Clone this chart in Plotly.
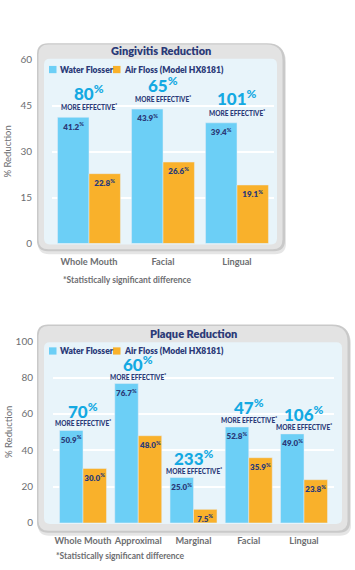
import plotly.graph_objects as go

# ---------------- data ----------------
gingivitis_categories = ["Whole Mouth", "Facial", "Lingual"]
gingivitis_water = [41.2, 43.9, 39.4]
gingivitis_air = [22.8, 26.6, 19.1]
gingivitis_more = [80, 65, 101]
gingivitis_ticks = [0, 15, 30, 45, 60]

plaque_categories = ["Whole Mouth", "Approximal", "Marginal", "Facial", "Lingual"]
plaque_water = [50.9, 76.7, 25.0, 52.8, 49.0]
plaque_air = [30.0, 48.0, 7.5, 35.9, 23.8]
plaque_more = [70, 60, 233, 47, 106]
plaque_ticks = [0, 20, 40, 60, 80, 100]

series_names = ["Water Flosser", "Air Floss (Model HX8181)"]
chart_titles = ["Gingivitis Reduction", "Plaque Reduction"]
footnote = "*Statistically significant difference"
y_title = "% Reduction"

# ---------------- style ----------------
W, H = 355, 570
BLUE = "#6CCFF6"
ORANGE = "#F9B12B"
NAVY = "#2B3A78"
CYAN = "#14A9E2"
GRAY = "#6D6E71"
RIM = "#E3E3E3"
FONT = "Lato"


def px(x):
    return x / W


def py(y):
    return 1 - y / H


def rrect(x0, y0, x1, y1, r, rtr=None):
    rtr = r if rtr is None else rtr
    pts = [
        ("M", [(x0 + r, y0)]),
        ("L", [(x1 - rtr, y0)]),
        ("Q", [(x1, y0), (x1, y0 + rtr)]),
        ("L", [(x1, y1 - r)]),
        ("Q", [(x1, y1), (x1 - r, y1)]),
        ("L", [(x0 + r, y1)]),
        ("Q", [(x0, y1), (x0, y1 - r)]),
        ("L", [(x0, y0 + r)]),
        ("Q", [(x0, y0), (x0 + r, y0)]),
    ]
    s = ""
    for cmd, ps in pts:
        s += cmd + " ".join(f"{px(a):.5f},{py(b):.5f}" for a, b in ps) + " "
    return s + "Z"


fig = go.Figure()

panels = [
    dict(outer=(37, 37, 285, 250), inner=(44, 53, 277, 243), xd=(52, 274), yd=(54, 242),
         leg_y=64, title_y=45, foot=(61, 279), xa="x", ya="y", shifts=(25, 10),
         cats=gingivitis_categories, water=gingivitis_water, air=gingivitis_air,
         more=gingivitis_more, ticks=gingivitis_ticks),
    dict(outer=(37, 325, 350, 538), inner=(44, 343, 342, 529), xd=(53, 334), yd=(342, 528),
         leg_y=352, title_y=334, foot=(54, 562), xa="x2", ya="y2", shifts=(20, 7),
         cats=plaque_categories, water=plaque_water, air=plaque_air,
         more=plaque_more, ticks=plaque_ticks),
]

shapes = []
annotations = []

for i, p in enumerate(panels):
    ox0, oy0, ox1, oy1 = p["outer"]
    ix0, iy0, ix1, iy1 = p["inner"]
    # soft shadow
    shapes.append(dict(type="path", xref="paper", yref="paper", layer="below",
                       path=rrect(ox0 + 1, oy0 + 2, ox1 + 1, oy1 + 3, 11, 18),
                       fillcolor="rgba(0,0,0,0.10)", line=dict(width=0)))
    # outer gray frame with rim
    shapes.append(dict(type="path", xref="paper", yref="paper", layer="below",
                       path=rrect(ox0, oy0, ox1, oy1, 11, 18),
                       fillcolor="#C9C9C9", line=dict(width=0)))
    shapes.append(dict(type="path", xref="paper", yref="paper", layer="below",
                       path=rrect(ox0 + 1.5, oy0 + 1.5, ox1 - 2.5, oy1 - 2, 10, 16),
                       fillcolor=RIM, line=dict(width=0)))
    # inner light-blue plotting panel
    shapes.append(dict(type="path", xref="paper", yref="paper", layer="below",
                       path=rrect(ix0, iy0, ix1, iy1, 6),
                       fillcolor="#E8F4FA", line=dict(width=0)))

    xa, ya = p["xa"], p["ya"]
    for name, col, vals in zip(series_names, [BLUE, ORANGE], [p["water"], p["air"]]):
        fig.add_trace(go.Bar(
            x=p["cats"], y=vals, name=name, marker_color=col,
            xaxis=xa, yaxis=ya, showlegend=False,
            texttemplate="%{y:.1f}<sup>%</sup>", textposition="inside",
            insidetextanchor="end", textangle=0, constraintext="none",
            insidetextfont=dict(family=FONT, size=8, color=NAVY, weight=800),
            cliponaxis=False))

    # legend: swatches + labels
    ly = p["leg_y"]
    for name, col, sx in zip(series_names, [BLUE, ORANGE], [49, 113]):
        shapes.append(dict(type="rect", xref="paper", yref="paper", layer="above",
                           x0=px(sx), x1=px(sx + 7.5), y0=py(ly + 3.7), y1=py(ly - 3.7),
                           fillcolor=col, line=dict(width=0)))
        annotations.append(dict(
            x=px(sx + 9), y=py(ly), xref="paper", yref="paper", text=name,
            showarrow=False, xanchor="left", yanchor="middle",
            font=dict(family=FONT, size=8.5, color=NAVY, weight=800)))

    # "xx% MORE EFFECTIVE*" call-outs above each group
    big_shift, me_shift = p["shifts"]
    for c, v, m in zip(p["cats"], p["water"], p["more"]):
        annotations.append(dict(
            x=c, y=v, xref=xa, yref=ya, text=f"{m}<sup>%</sup>", showarrow=False,
            yanchor="middle", yshift=big_shift,
            font=dict(family=FONT, size=17, color=CYAN, weight=900)))
        annotations.append(dict(
            x=c, y=v, xref=xa, yref=ya, text="MORE EFFECTIVE<sup>*</sup>", showarrow=False,
            yanchor="middle", yshift=me_shift,
            font=dict(family=FONT, size=6.5, color=NAVY, weight=900)))

    # chart title
    annotations.append(dict(
        x=px((ox0 + ox1) / 2), y=py(p["title_y"]), xref="paper", yref="paper",
        text=chart_titles[i], showarrow=False, xanchor="center", yanchor="middle",
        font=dict(family=FONT, size=11, color=NAVY, weight=800)))
    # footnote
    annotations.append(dict(
        x=px(p["foot"][0]), y=py(p["foot"][1]), xref="paper", yref="paper",
        text=footnote, showarrow=False, xanchor="left", yanchor="middle",
        font=dict(family=FONT, size=8.5, color=GRAY, weight=700)))
    # y axis title
    annotations.append(dict(
        x=px(8), y=0.5, xref="paper", yref=f"{ya} domain",
        text=y_title, showarrow=False, textangle=-90, xanchor="center", yanchor="middle",
        font=dict(family=FONT, size=9.5, color=GRAY)))

    xkey = "xaxis" if xa == "x" else "xaxis2"
    ykey = "yaxis" if ya == "y" else "yaxis2"
    fig.update_layout(**{
        xkey: dict(domain=[px(p["xd"][0]), px(p["xd"][1])], anchor=ya,
                   showgrid=False, zeroline=False, showline=False, ticks="",
                   tickangle=0,
                   tickfont=dict(family=FONT, size=9.2, color=GRAY, weight=700),
                   ticklabelstandoff=11, fixedrange=True),
        ykey: dict(domain=[py(p["yd"][1]), py(p["yd"][0])], anchor=xa,
                   range=[0, p["ticks"][-1]], tickvals=p["ticks"],
                   showgrid=True, gridcolor="white", gridwidth=1.5,
                   zeroline=False, showline=False, ticks="",
                   tickfont=dict(family=FONT, size=10, color=GRAY),
                   ticklabelstandoff=19, fixedrange=True),
    })

fig.update_layout(
    width=W, height=H, autosize=False,
    margin=dict(l=0, r=0, t=0, b=0),
    paper_bgcolor="white", plot_bgcolor="rgba(0,0,0,0)",
    barmode="group", bargap=0.15, bargroupgap=0,
    shapes=shapes, annotations=annotations,
    font=dict(family=FONT),
    showlegend=False,
)
fig.write_html("out.html", post_script="document.body.style.margin='0';",
               config={"displayModeBar": False})
